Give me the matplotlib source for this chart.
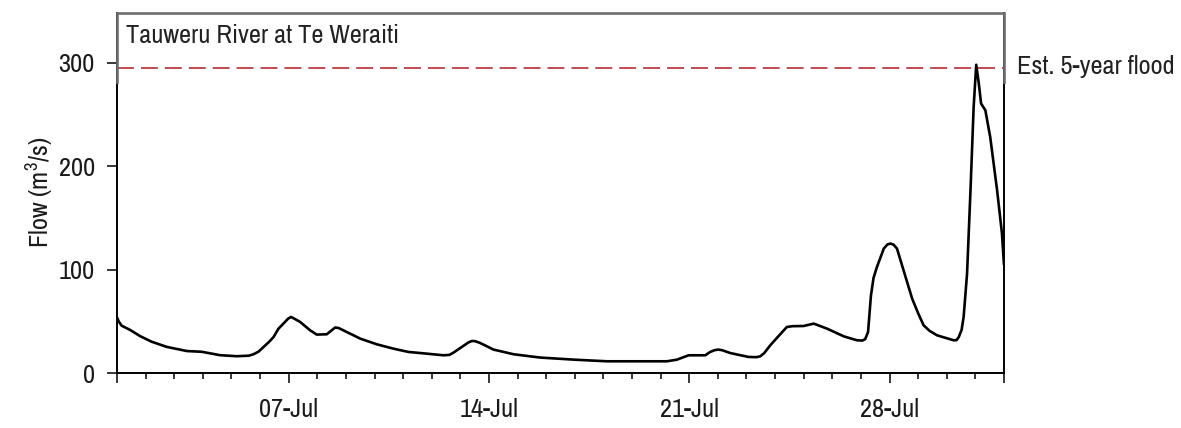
import matplotlib
matplotlib.use("Agg")
import matplotlib.pyplot as plt
import matplotlib.dates as mdates
import numpy as np
import pandas as pd

plt.rcParams["font.family"] = ["Liberation Sans Narrow", "Archivo Narrow", "DejaVu Sans"]
plt.rcParams["mathtext.default"] = "regular"

# Flow record: days elapsed since 1 July 00:00, flow in m3/s
days = [0.00, 0.06, 0.16, 0.45, 0.80, 1.21, 1.74, 2.44, 2.96, 3.60, 4.19, 4.60,
        4.77, 4.95, 5.12, 5.30, 5.47, 5.64, 5.87, 5.98, 6.08, 6.18, 6.40, 6.75,
        6.98, 7.33, 7.50, 7.62, 7.74, 7.91, 8.50, 9.08, 9.66, 10.19, 10.59,
        11.41, 11.62, 11.76, 12.05, 12.28, 12.40, 12.52, 12.69, 13.16,
        13.86, 14.79, 15.96, 17.12, 19.22, 19.57, 19.98, 20.56, 20.73, 20.88,
        21.02, 21.15, 21.43, 22.07, 22.35, 22.48, 22.62, 22.83, 23.09, 23.41,
        23.60, 24.00, 24.35, 24.81, 25.40, 25.86, 26.05, 26.15, 26.25, 26.35,
        26.44, 26.56, 26.80, 26.93, 27.03, 27.14, 27.26, 27.49, 27.79, 28.00,
        28.19, 28.40, 28.66, 29.24, 29.34, 29.42, 29.52, 29.59, 29.71, 29.83,
        29.94, 30.03, 30.12, 30.20, 30.35, 30.52, 30.76, 30.93, 31.00]
flow = [54.0, 50.0, 46.0, 42.0, 36.0, 30.5, 25.5, 21.5, 20.8, 17.5, 16.5, 17.0,
        18.4, 21.0, 25.4, 30.0, 35.0, 43.0, 49.6, 52.8, 54.4, 53.0, 49.6, 41.5,
        37.4, 37.7, 41.5, 44.2, 43.8, 41.5, 33.5, 28.0, 23.8, 20.6, 19.6,
        17.4, 17.8, 20.0, 25.4, 29.8, 31.2, 31.0, 29.3, 22.9,
        18.4, 15.2, 13.2, 11.6, 11.6, 13.2, 17.4, 17.4, 20.6, 22.3,
        22.9, 22.3, 19.6, 15.8, 15.6, 16.4, 19.5, 27.0, 35.0, 44.7,
        45.5, 45.7, 48.0, 43.2, 35.7, 31.9, 31.6, 33.0, 40.0, 75.0,
        92.0, 102.7, 120.5, 124.5, 125.3, 124.3, 120.5, 99.5, 72.2, 58.0,
        46.4, 41.0, 36.7, 31.9, 32.0, 35.0, 42.0, 54.4, 96.3, 176.8,
        257.0, 298.0, 280.0, 260.6, 254.0, 228.0, 176.8, 135.0, 105.0]

flood_5yr = 295.0
site_name = "Tauweru River at Te Weraiti"
flood_label = "Est. 5-year flood"
labelled_days = ["2019-07-07", "2019-07-14", "2019-07-21", "2019-07-28"]
labelled_text = ["07-Jul", "14-Jul", "21-Jul", "28-Jul"]

start = pd.Timestamp("2019-07-01")
end = pd.Timestamp("2019-08-01")
times = start + pd.to_timedelta(days, unit="D")

fig = plt.figure(figsize=(11.81, 4.28), dpi=100)
ax = fig.add_axes([0.0991, 0.1278, 0.7510, 0.8418])

ax.plot(times, flow, color="black", lw=1.9, solid_joinstyle="round",
        solid_capstyle="round", zorder=3)
ax.axhline(flood_5yr, color="#c24a52", lw=1.4, dashes=(8.7, 3.6), zorder=2)

ax.set_xlim(start, end)
ax.set_ylim(0, 348)

# axis ticks
major_pos = [start] + [pd.Timestamp(d) for d in labelled_days] + [end]
ax.set_xticks(mdates.date2num(major_pos))
ax.set_xticklabels([""] + labelled_text + [""])
ax.xaxis.set_minor_locator(mdates.DayLocator())
ax.set_yticks([0, 100, 200, 300])
ax.tick_params(axis="both", which="major", direction="out", length=7,
               width=1.1, color="black", labelsize=19, labelcolor="#1a1a1a")
ax.tick_params(axis="x", which="major", pad=11)
ax.tick_params(axis="y", which="major", pad=9)
ax.tick_params(axis="x", which="minor", direction="out", length=4.5,
               width=1.1, color="black")

for side in ("left", "bottom", "right"):
    ax.spines[side].set_linewidth(1.4)
    ax.spines[side].set_color("black")
ax.spines["top"].set_visible(False)

# grey frame around the header strip
y0 = 281.0 / 348.0
ax.plot([0, 0, 1, 1], [y0, 1, 1, y0], transform=ax.transAxes, color="#6e6e6e",
        lw=1.9, clip_on=False, zorder=5, solid_joinstyle="miter")

ax.text(0.0105, 319.4, site_name, transform=ax.get_yaxis_transform(),
        ha="left", va="baseline", fontsize=19, color="#222222")
ax.text(1.0143, 288.7, flood_label, transform=ax.get_yaxis_transform(),
        ha="left", va="baseline", fontsize=19, color="#222222", clip_on=False)

fig.text(40 / 1181, 1 - 192 / 428, "Flow (m$^{3}$/s)", rotation=90,
         ha="center", va="center", fontsize=19, color="#1a1a1a")

fig.savefig("out.png", dpi=100)
